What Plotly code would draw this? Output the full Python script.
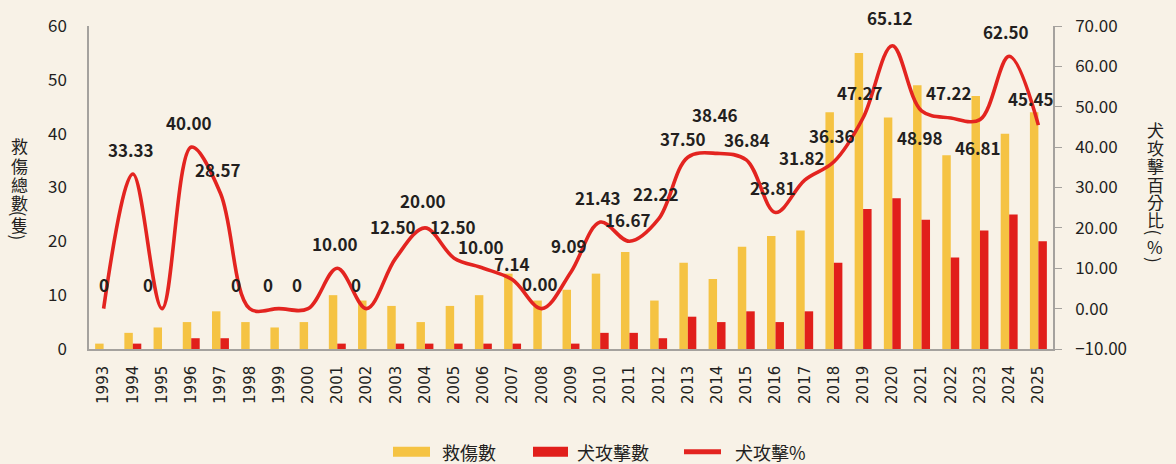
import plotly.graph_objects as go

# ---------------- data ----------------
years = [str(y) for y in range(1993, 2026)]
rescued = [1, 3, 4, 5, 7, 5, 4, 5, 10, 9, 8, 5, 8, 10, 14, 9, 11, 14, 18, 9,
           16, 13, 19, 21, 22, 44, 55, 43, 49, 36, 47, 40, 44]
dog_attacks = [0, 1, 0, 2, 2, 0, 0, 0, 1, 0, 1, 1, 1, 1, 1, 0, 1, 3, 3, 2,
               6, 5, 7, 5, 7, 16, 26, 28, 24, 17, 22, 25, 20]
attack_pct = [0, 33.33, 0, 40.00, 28.57, 0, 0, 0, 10.00, 0, 12.50, 20.00, 12.50,
              10.00, 7.14, 0.00, 9.09, 21.43, 16.67, 22.22, 37.50, 38.46, 36.84,
              23.81, 31.82, 36.36, 47.27, 65.12, 48.98, 47.22, 46.81, 62.50, 45.45]
pct_labels = ["0", "33.33", "0", "40.00", "28.57", "0", "0", "0", "10.00", "0",
              "12.50", "20.00", "12.50", "10.00", "7.14", "0.00", "9.09", "21.43",
              "16.67", "22.22", "37.50", "38.46", "36.84", "23.81", "31.82", "36.36",
              "47.27", "65.12", "48.98", "47.22", "46.81", "62.50", "45.45"]

left_ticks = [0, 10, 20, 30, 40, 50, 60]
right_ticks = [-10, 0, 10, 20, 30, 40, 50, 60, 70]

series_names = ["救傷數", "犬攻擊數", "犬攻擊%"]
left_title = "救傷總數(隻)"
right_title = "犬攻擊百分比(%)"

# ---------------- style / layout ----------------
label_xshift = [0, -2, -14, -2, -2, -14, -11, -11, -2, -11, -3, -2, -1, -2, -1, -2,
                -2, -2, -1, -3, -5, -2, 1, -2, -3, -2, -3, -2, -2, -2, -2, -3, -7]
label_yshift = [24, 25, 24, 25, 24, 24, 24, 24, 25, 24, 32, 27, 32, 22, 16, 25, 26,
                25, 22, 25, 19, 39, 20, 25, 23, 26, 25, 28, -27, 25, -28, 25, 27]

BG = "#F8F2E7"
YELLOW = "#F5C343"
RED = "#E11F1B"
LINE_RED = "#E32420"
TEXT = "#231F1E"
AXIS = "#A5A29E"
CJK = "Noto Sans CJK TC"

W, H = 1176, 464
PL, PR, PT, PB = 89, 1053, 22, 349  # plot area in pixels


def px_x(px):
    return (px - PL) / (PR - PL)


def px_y(py):
    return (PB - py) / (PB - PT)


fig = go.Figure()
fig.add_trace(go.Bar(x=years, y=rescued, name=series_names[0],
                     marker=dict(color=YELLOW, line=dict(width=0)), yaxis="y"))
fig.add_trace(go.Bar(x=years, y=dog_attacks, name=series_names[1],
                     marker=dict(color=RED, line=dict(width=0)), yaxis="y"))
fig.add_trace(go.Scatter(x=years, y=attack_pct, name=series_names[2], mode="lines",
                         line=dict(color=LINE_RED, width=3.6, shape="spline", smoothing=1.0),
                         yaxis="y2"))

annotations = []
for i, (v, lab, dx, dy) in enumerate(zip(attack_pct, pct_labels, label_xshift, label_yshift)):
    annotations.append(dict(x=i, y=v, xref="x", yref="y2", text=lab, showarrow=False,
                            xshift=dx, yshift=dy, xanchor="center", yanchor="middle",
                            font=dict(family=CJK, size=17, color=TEXT, weight="bold")))


def glyph(ch, px, py):
    rot = 90 if ch in "()" else 0
    return dict(x=px_x(px), y=px_y(py), xref="paper", yref="paper", text=ch,
                showarrow=False, textangle=rot, xanchor="center", yanchor="middle",
                borderpad=0, font=dict(family=CJK, size=17, color=TEXT))


# vertical axis titles: upright glyphs stacked, parentheses rotated
left_pos = [143, 163, 182, 201, 212, 223, 236]
for ch, py in zip(left_title, left_pos):
    annotations.append(glyph(ch, 19, py))
right_pos = [127, 145, 163, 182, 200, 218, 231, 245, 259]
for ch, py in zip(right_title, right_pos):
    annotations.append(glyph(ch, 1155, py))

# custom legend
shapes = [
    dict(type="rect", xref="paper", yref="paper", x0=px_x(393), x1=px_x(430),
         y0=px_y(458), y1=px_y(448), fillcolor=YELLOW, line=dict(width=0)),
    dict(type="rect", xref="paper", yref="paper", x0=px_x(533), x1=px_x(568),
         y0=px_y(458), y1=px_y(448), fillcolor=RED, line=dict(width=0)),
    dict(type="line", xref="paper", yref="paper", x0=px_x(684), x1=px_x(721),
         y0=px_y(453), y1=px_y(453), line=dict(color=LINE_RED, width=5)),
]
for name, px in zip(series_names, [440, 575, 733]):
    annotations.append(dict(x=px_x(px), y=px_y(453), xref="paper", yref="paper", text=name,
                            showarrow=False, xanchor="left", yanchor="middle",
                            font=dict(family=CJK, size=18, color=TEXT)))

fig.update_layout(
    width=W, height=H,
    margin=dict(l=PL, r=W - PR, t=PT, b=H - PB, pad=0),
    paper_bgcolor=BG, plot_bgcolor=BG,
    barmode="group", bargap=0.42, bargroupgap=0,
    showlegend=False,
    font=dict(family=CJK, color=TEXT),
    xaxis=dict(type="category", range=[-0.5, len(years) - 0.5], tickangle=-90,
               showgrid=False, showline=True,
               linecolor=AXIS, linewidth=1.5, ticks="", ticklabelstandoff=9,
               tickfont=dict(family="DejaVu Sans", size=15, color=TEXT)),
    yaxis=dict(range=[0, 60], tickvals=left_ticks, showgrid=False, zeroline=False,
               showline=True, linecolor=AXIS, linewidth=1.5, ticks="",
               ticklabelstandoff=17,
               tickfont=dict(family=CJK, size=17, color=TEXT)),
    yaxis2=dict(range=[-10, 70], tickvals=right_ticks, tickformat=".2f", overlaying="y",
                side="right", showgrid=False, zeroline=False, showline=True,
                linecolor=AXIS, linewidth=1.5, ticks="outside", ticklen=7,
                tickcolor=AXIS, tickwidth=1.2, ticklabelstandoff=10,
                tickfont=dict(family=CJK, size=17, color=TEXT)),
    annotations=annotations,
    shapes=shapes,
)

fig.write_html("out.html", config={"displayModeBar": False},
               post_script="document.body.style.margin='0';document.body.style.padding='0';")
